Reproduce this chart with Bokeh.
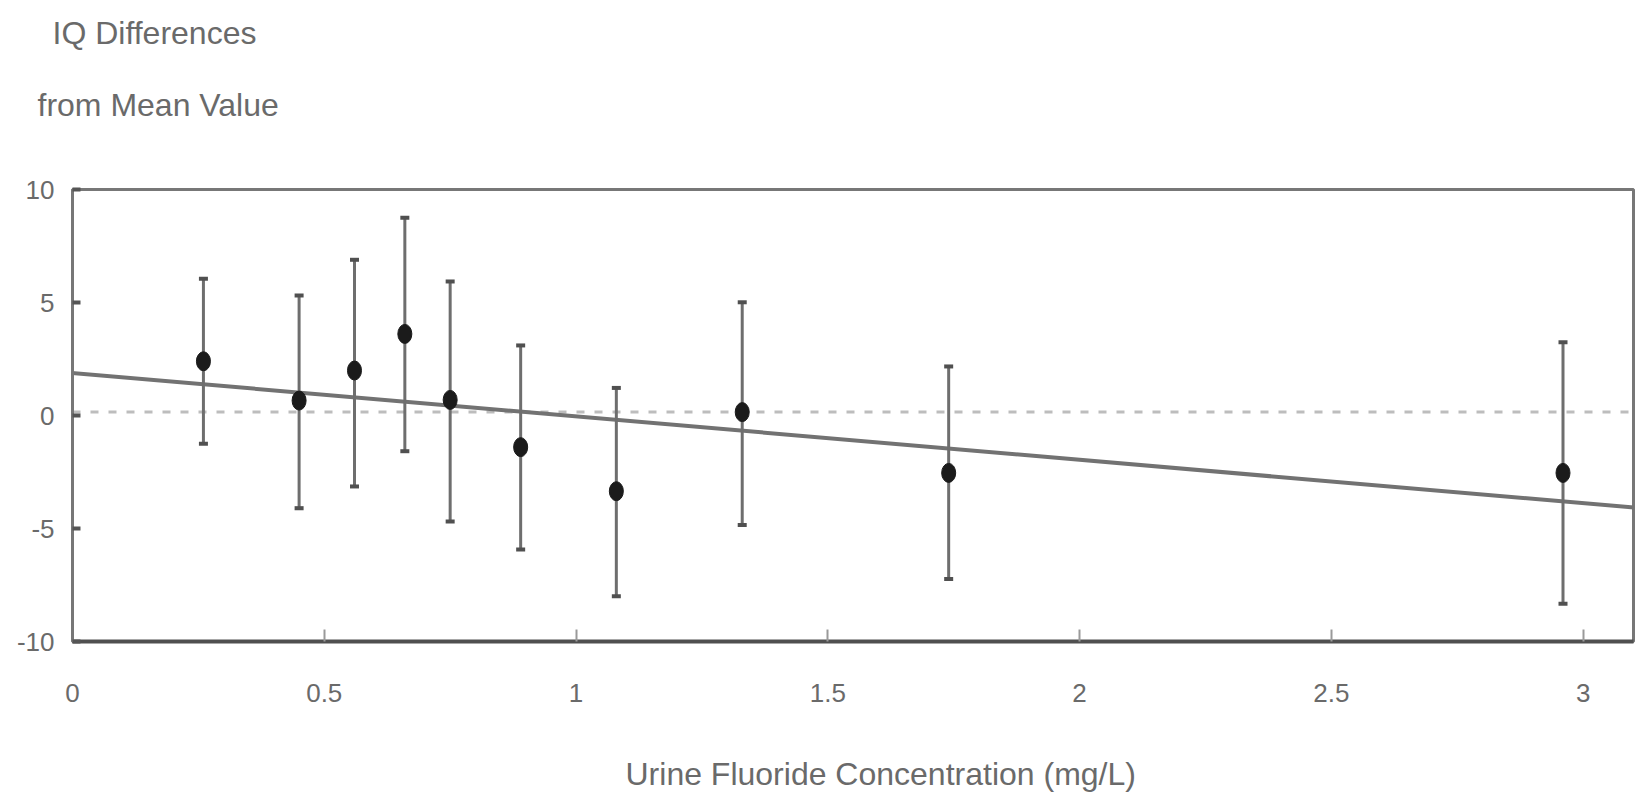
from bokeh.plotting import figure
from bokeh.layouts import column
from bokeh.models import (Range1d, FixedTicker, Whisker, ColumnDataSource, Title,
                          TeeHead, Span, Slope)
from bokeh.embed import file_html
from bokeh.resources import INLINE

# ---- data ----
conc = [0.26, 0.45, 0.56, 0.66, 0.75, 0.89, 1.08, 1.33, 1.74, 2.96]
iq_diff = [2.40, 0.66, 1.99, 3.61, 0.69, -1.40, -3.35, 0.15, -2.54, -2.54]
upper = [6.05, 5.31, 6.89, 8.75, 5.93, 3.10, 1.22, 5.01, 2.17, 3.24]
lower = [-1.25, -4.10, -3.14, -1.58, -4.69, -5.93, -8.00, -4.84, -7.23, -8.33]
fit_intercept = 1.88
fit_slope = -1.92
mean_level = 0.15
x_ticks = [0, 0.5, 1, 1.5, 2, 2.5, 3]
x_tick_labels = ["0", "0.5", "1", "1.5", "2", "2.5", "3"]
y_ticks = [-10, -5, 0, 5, 10]
y_tick_labels = ["-10", "-5", "0", "5", "10"]
y_title_lines = ["IQ Differences", "from Mean Value"]
x_title = "Urine Fluoride Concentration (mg/L)"

FONT = "Liberation Sans"
TXT = "#6a6a6a"
W = 1639
TOP_H, MAIN_H = 160, 561
BOT_H = 798 - TOP_H - MAIN_H


def blank(h):
    f = figure(width=W, height=h, output_backend="svg", toolbar_location=None,
               x_axis_location=None, y_axis_location=None,
               min_border=0, min_border_left=0, min_border_right=0,
               min_border_top=0, min_border_bottom=0)
    f.grid.visible = False
    f.outline_line_color = None
    f.background_fill_color = "white"
    f.border_fill_color = "white"
    return f


def title(f, txt, side, offset, standoff):
    f.add_layout(Title(text=txt, align="left", offset=offset, standoff=standoff,
                       text_font=FONT, text_font_size="32px", text_color=TXT,
                       text_font_style="normal"), side)


# ---- top strip: y-axis title in two lines (first added sits nearest the frame) ----
top = blank(TOP_H)
title(top, y_title_lines[1], "above", -35, 43)
title(top, y_title_lines[0], "above", -20, 25)

# ---- main plot ----
src = ColumnDataSource(dict(x=conc, y=iq_diff, upper=upper, lower=lower))

p = figure(width=W, height=MAIN_H, x_range=Range1d(0, 3.1), y_range=Range1d(-10, 10),
           output_backend="svg", toolbar_location=None,
           min_border_left=72, min_border_right=6, min_border_top=29, min_border_bottom=80)
p.grid.visible = False
p.background_fill_color = "white"
p.border_fill_color = "white"
p.outline_line_color = "#777777"
p.outline_line_width = 3

xa = p.xaxis[0]
xa.ticker = FixedTicker(ticks=x_ticks)
xa.major_label_overrides = {t: l for t, l in zip(x_ticks, x_tick_labels)}
xa.axis_line_color = "#505050"
xa.axis_line_width = 4
xa.major_tick_in = 12
xa.major_tick_out = 0
xa.major_tick_line_color = "#9a9a9a"
xa.major_tick_line_width = 2
xa.minor_tick_line_color = None
xa.major_label_standoff = 42
xa.major_label_text_font = FONT
xa.major_label_text_font_size = "26px"
xa.major_label_text_color = TXT

ya = p.yaxis[0]
ya.ticker = FixedTicker(ticks=y_ticks)
ya.major_label_overrides = {t: l for t, l in zip(y_ticks, y_tick_labels)}
ya.axis_line_color = "#777777"
ya.axis_line_width = 3
ya.major_tick_in = 8
ya.major_tick_out = 0
ya.major_tick_line_color = "#555555"
ya.major_tick_line_width = 4
ya.minor_tick_line_color = None
ya.major_label_standoff = 18
ya.major_label_text_font = FONT
ya.major_label_text_font_size = "26px"
ya.major_label_text_color = TXT

p.add_layout(Span(location=mean_level, dimension="width", line_color="#bdbdbd",
                  line_width=3, line_dash="8 10", level="underlay"))
p.add_layout(Slope(gradient=fit_slope, y_intercept=fit_intercept, line_color="#727272",
                   line_width=4, level="underlay"))

head_kw = dict(size=9, line_color="#505050", line_width=4)
p.add_layout(Whisker(base="x", upper="upper", lower="lower", source=src,
                     line_color="#6e6e6e", line_width=3,
                     upper_head=TeeHead(**head_kw), lower_head=TeeHead(**head_kw)))

p.ellipse(x="x", y="y", width=14, height=19, width_units="screen", height_units="screen",
          source=src, fill_color="#1b1b1b", line_color="#1b1b1b")

# ---- bottom strip: x-axis title ----
bot = blank(BOT_H)
title(bot, x_title, "below", 553, 13)

layout = column(top, p, bot, spacing=0)
open("out.html", "w").write(file_html(layout, INLINE))
